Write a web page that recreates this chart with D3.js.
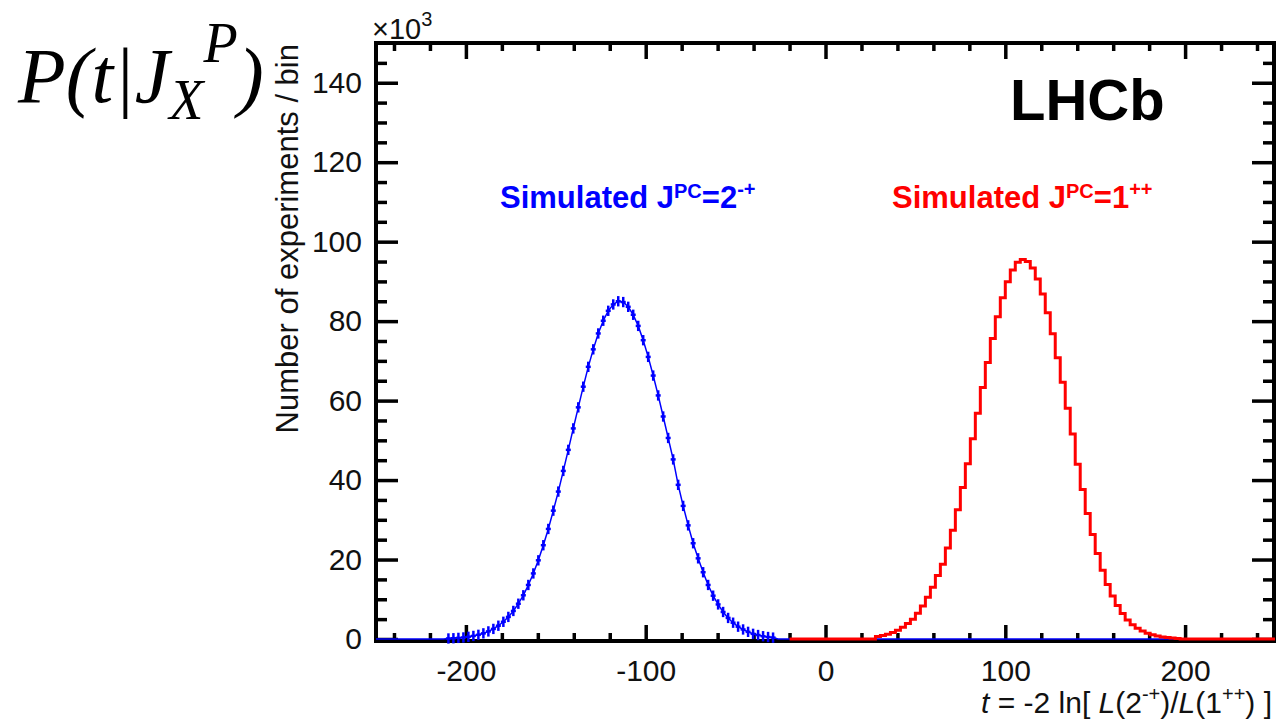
<!DOCTYPE html>
<html>
<head>
<meta charset="utf-8">
<title>LHCb - test statistic t</title>
<style>
    body { margin: 0; background: white; }
    svg { font-family: "Liberation Sans", Arial, sans-serif; }
    text { white-space: pre; }
</style>
<script src="https://cdn.jsdelivr.net/npm/d3@7/dist/d3.min.js"></script>
</head>
<body>
<div id="chart"></div>
<script>
    // histogram binning (t from -250 to 250, 180 bins)
    var xRange = [-250, 250];
    var nBins = 180;
    var yRange = [0, 150];

    var xMajor = [-200, -100, 0, 100, 200];
    var yMajor = [0, 20, 40, 60, 80, 100, 120, 140];

    // simulated J^PC = 2-+ (blue, x10^3 experiments per bin), first bin index 14
    var blueFirstBin = 14;
    var blueValues = [0.13, 0.19, 0.28, 0.39, 0.55, 0.77, 1.05, 1.42, 1.91, 2.54,
        3.34, 4.33, 5.56, 7.06, 8.88, 11.0, 13.6, 16.5, 19.8, 23.6,
        27.7, 32.3, 37.1, 42.3, 47.6, 53.0, 58.3, 63.5, 68.5, 72.9,
        76.9, 80.1, 82.6, 84.2, 85.0, 84.8, 83.6, 81.6, 78.8, 75.2,
        71.0, 66.3, 61.3, 56.0, 50.6, 45.2, 38.8, 33.5, 28.6, 24.1,
        20.3, 16.8, 13.6, 10.9, 8.7, 6.8, 5.3, 4.1, 3.1, 2.4,
        1.8, 1.3, 1.0, 0.7, 0.5, 0.35];
    var blueErr = 1.3;

    // simulated J^PC = 1++ (red), first bin index 100
    var redFirstBin = 100;
    var redValues = [0.6, 0.85, 1.2, 1.65, 2.2, 2.95, 3.9, 5.0, 6.5, 8.3,
        10.5, 13.0, 16.0, 18.8, 22.9, 27.4, 32.5, 38.1, 44.1, 50.4,
        56.8, 63.3, 69.6, 75.6, 81.1, 85.9, 89.9, 92.9, 94.8, 95.5,
        95.0, 93.4, 90.6, 86.8, 82.1, 76.8, 70.8, 64.6, 58.1, 51.6,
        44.0, 37.6, 31.6, 26.3, 21.5, 17.3, 13.7, 10.8, 8.4, 6.4,
        4.8, 3.6, 2.7, 2.0, 1.45, 1.05, 0.75, 0.5, 0.35, 0.25, 0.15];
    var redLineStart = -20;

    var binWidth = (xRange[1] - xRange[0]) / nBins;

    function toBins(values, first) {
        return values.map(function(v, k) {
            var x0 = xRange[0] + (first + k) * binWidth;
            return { x0: x0, x1: x0 + binWidth, xc: x0 + binWidth / 2, v: v };
        });
    }
    var blueBins = toBins(blueValues, blueFirstBin);
    var redBins = toBins(redValues, redFirstBin);

    var svg = d3.select('#chart')
            .append('svg')
            .attr('width', 1280)
            .attr('height', 724);

    var frameL = 376, frameR = 1274, frameT = 43, frameB = 641;

    var x = d3.scaleLinear().domain(xRange).range([376, 1275]);
    var y = d3.scaleLinear().domain(yRange).range([639, frameT]);

    var xMinor = d3.range(-240, 250, 20).filter(function(d) { return xMajor.indexOf(d) < 0; });
    var yMinor = d3.range(5, 150, 5).filter(function(d) { return d % 20 !== 0; });

    function styleAxis(g) {
        g.select('.domain').remove();
        g.selectAll('line').attr('stroke', 'black').attr('stroke-width', 3.5);
        g.attr('font-family', '"Liberation Sans", Arial, sans-serif')
         .attr('font-size', 30);
        g.selectAll('text').attr('fill', '#111');
    }

    // bottom axis
    svg.append('g').attr('transform', 'translate(0,' + frameB + ')')
            .call(d3.axisBottom(x).tickValues(xMajor).tickSize(-16).tickPadding(19).tickFormat(String))
            .call(styleAxis);
    svg.append('g').attr('transform', 'translate(0,' + frameB + ')')
            .call(d3.axisBottom(x).tickValues(xMinor).tickSize(-8).tickFormat(''))
            .call(styleAxis);
    // top axis
    svg.append('g').attr('transform', 'translate(0,' + frameT + ')')
            .call(d3.axisTop(x).tickValues(xMajor).tickSize(-16).tickFormat(''))
            .call(styleAxis);
    svg.append('g').attr('transform', 'translate(0,' + frameT + ')')
            .call(d3.axisTop(x).tickValues(xMinor).tickSize(-8).tickFormat(''))
            .call(styleAxis);
    // left axis
    svg.append('g').attr('transform', 'translate(' + frameL + ',0)')
            .call(d3.axisLeft(y).tickValues(yMajor).tickSize(-22).tickPadding(14).tickFormat(String))
            .call(styleAxis);
    svg.append('g').attr('transform', 'translate(' + frameL + ',0)')
            .call(d3.axisLeft(y).tickValues(yMinor).tickSize(-11).tickFormat(''))
            .call(styleAxis);
    // right axis
    svg.append('g').attr('transform', 'translate(' + frameR + ',0)')
            .call(d3.axisRight(y).tickValues(yMajor).tickSize(-22).tickFormat(''))
            .call(styleAxis);
    svg.append('g').attr('transform', 'translate(' + frameR + ',0)')
            .call(d3.axisRight(y).tickValues(yMinor).tickSize(-11).tickFormat(''))
            .call(styleAxis);

    // frame
    svg.append('rect')
            .attr('x', frameL)
            .attr('y', frameT)
            .attr('width', frameR - frameL)
            .attr('height', frameB - frameT)
            .attr('fill', 'none')
            .attr('stroke', 'black')
            .attr('stroke-width', 4);

    // blue: line through bin centres + error crosses
    var bluePts = [{ t: xRange[0], v: 0 }, { t: blueBins[0].x0 - binWidth / 2, v: 0 }]
            .concat(blueBins.map(function(b) { return { t: b.xc, v: b.v }; }))
            .concat([{ t: blueBins[blueBins.length - 1].x1 + binWidth / 2, v: 0 }, { t: xRange[1], v: 0 }]);
    svg.append('path')
            .datum(bluePts)
            .attr('fill', 'none')
            .attr('stroke', '#0000ff')
            .attr('stroke-width', 1.5)
            .attr('d', d3.line().x(function(d) { return x(d.t); }).y(function(d) { return y(d.v); }));

    var cross = svg.append('g').attr('stroke', '#0000ff').attr('stroke-width', 2.5)
            .selectAll('g').data(blueBins).enter().append('g');
    cross.append('line')
            .attr('x1', function(d) { return x(d.x0); })
            .attr('x2', function(d) { return x(d.x1); })
            .attr('y1', function(d) { return y(d.v); })
            .attr('y2', function(d) { return y(d.v); });
    cross.append('line')
            .attr('x1', function(d) { return x(d.xc); })
            .attr('x2', function(d) { return x(d.xc); })
            .attr('y1', function(d) { return y(d.v - blueErr); })
            .attr('y2', function(d) { return y(d.v + blueErr); });

    // red: step histogram
    var redPts = [{ t: redLineStart, v: 0 }]
            .concat(redBins.map(function(b) { return { t: b.x0, v: b.v }; }))
            .concat([{ t: redBins[redBins.length - 1].x1, v: 0 }, { t: xRange[1], v: 0 }]);
    svg.append('path')
            .datum(redPts)
            .attr('fill', 'none')
            .attr('stroke', '#ff0000')
            .attr('stroke-width', 3)
            .attr('d', d3.line().curve(d3.curveStepAfter)
                    .x(function(d) { return x(d.t); }).y(function(d) { return y(d.v); }));

    // x10^3
    var ex = svg.append('text').attr('x', 372).attr('y', 39).attr('font-size', 29).attr('fill', '#111');
    ex.append('tspan').text('\u00d710');
    ex.append('tspan').attr('dy', -13).attr('font-size', 20).text('3');

    // axis titles
    svg.append('text')
            .attr('transform', 'translate(298,44) rotate(-90)')
            .attr('text-anchor', 'end')
            .attr('font-size', 31)
            .attr('fill', '#111')
            .text('Number of experiments / bin');

    var xt = svg.append('text')
            .attr('x', 1272).attr('y', 713)
            .attr('text-anchor', 'end')
            .attr('font-size', 30)
            .attr('fill', '#111');
    xt.append('tspan').attr('font-style', 'italic').text('t');
    xt.append('tspan').text(' = -2 ln[ ');
    xt.append('tspan').attr('font-style', 'italic').text('L');
    xt.append('tspan').text('(2');
    xt.append('tspan').attr('dy', -12).attr('font-size', 20).text('-+');
    xt.append('tspan').attr('dy', 12).text(')/');
    xt.append('tspan').attr('font-style', 'italic').text('L');
    xt.append('tspan').text('(1');
    xt.append('tspan').attr('dy', -12).attr('font-size', 20).text('++');
    xt.append('tspan').attr('dy', 12).text(') ]');

    // legends
    function legend(xpos, color, sup) {
        var t = svg.append('text').attr('x', xpos).attr('y', 208)
                .attr('font-size', 31).attr('font-weight', 'bold').attr('fill', color);
        t.append('tspan').text('Simulated J');
        t.append('tspan').attr('dy', -10).attr('font-size', 20).text('PC');
        t.append('tspan').attr('dy', 10).text('=' + sup[0]);
        t.append('tspan').attr('dy', -12).attr('font-size', 20).text(sup[1]);
    }
    legend(500, '#0000ff', ['2', '-+']);
    legend(892, '#ff0000', ['1', '++']);

    svg.append('text')
            .attr('x', 1010).attr('y', 120)
            .attr('font-size', 58).attr('font-weight', 'bold').attr('fill', 'black')
            .text('LHCb');

    // slide title P(t|J_X^P)
    var ti = svg.append('text')
            .attr('x', 18).attr('y', 102)
            .attr('font-family', '"Liberation Serif", "Times New Roman", serif')
            .attr('font-style', 'italic')
            .attr('font-size', 78)
            .attr('fill', 'black');
    ti.append('tspan').text('P(t|J');
    ti.append('tspan').attr('dy', 17).attr('font-size', 56).text('X');
    ti.append('tspan').attr('dy', -57).attr('font-size', 56).text('P');
    ti.append('tspan').attr('dy', 40).text(')');
</script>
</body>
</html>
